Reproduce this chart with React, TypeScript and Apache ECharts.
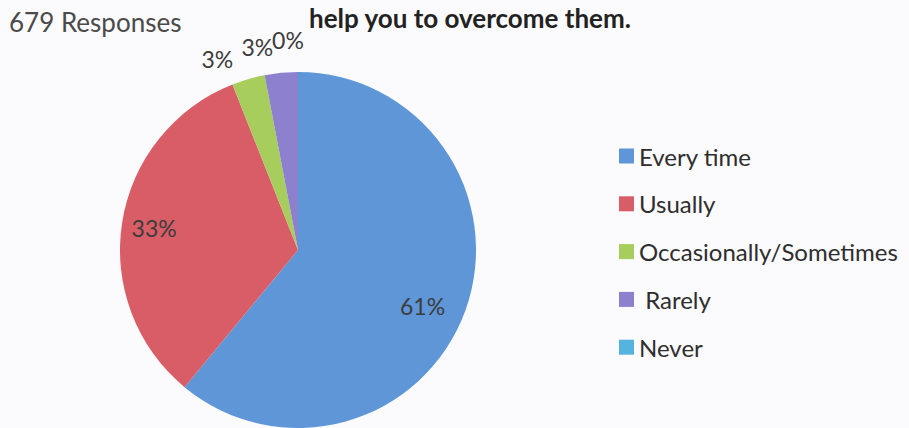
import React, { useEffect, useRef } from "react";
import * as echarts from "echarts";

// ---- data ----
const categories = ["Every time", "Usually", "Occasionally/Sometimes", " Rarely", "Never"];
const percents = [61, 33, 3, 3, 0];
const titleText = "help you to overcome them.";
const responsesText = "679 Responses";

// ---- styling ----
const colors = ["#5e96d8", "#d95d66", "#a7cd5d", "#8c80cf", "#56b2df"];
const labelShift: [number, number][] = [
  [38, 25],
  [-53, -8],
  [-55, -103],
  [-32, -111],
  [-10, -118],
];
const FONT = "Lato, 'Open Sans', sans-serif";

export default function App() {
  const ref = useRef<HTMLDivElement>(null);

  useEffect(() => {
    if (!ref.current) return;
    const chart = echarts.init(ref.current, undefined, { renderer: "svg" });
    chart.setOption({
      animation: false,
      backgroundColor: "#fbfafc",
      graphic: [
        {
          type: "text",
          x: 470,
          y: 5,
          style: {
            text: titleText,
            fill: "#222",
            font: `bold 26px ${FONT}`,
            textAlign: "center",
            textVerticalAlign: "top",
          },
        },
        {
          type: "text",
          x: 9,
          y: 9,
          style: {
            text: responsesText,
            fill: "#4a4a4a",
            font: `26px ${FONT}`,
            textAlign: "left",
            textVerticalAlign: "top",
          },
        },
      ],
      legend: {
        orient: "vertical",
        left: 614,
        top: 139,
        icon: "rect",
        itemWidth: 15,
        itemHeight: 15,
        itemGap: 23.8,
        selectedMode: false,
        data: categories,
        textStyle: {
          fontFamily: FONT,
          fontSize: 24,
          lineHeight: 24,
          color: "#2e2e2e",
        },
      },
      series: [
        {
          type: "pie",
          center: [298, 250],
          radius: 178,
          startAngle: 90,
          clockwise: true,
          avoidLabelOverlap: false,
          silent: true,
          itemStyle: { borderWidth: 0 },
          label: {
            show: true,
            position: "inside",
            formatter: "{c}%",
            fontFamily: FONT,
            fontSize: 23,
            color: "#3c3c3c",
          },
          labelLine: { show: false },
          labelLayout: (p: any) => ({
            dx: labelShift[p.dataIndex][0],
            dy: labelShift[p.dataIndex][1],
          }),
          data: categories.map((name, i) => ({
            name,
            value: percents[i],
            itemStyle: { color: colors[i] },
          })),
        },
      ],
    });
    return () => chart.dispose();
  }, []);

  return (
    <div
      ref={ref}
      style={{ position: "fixed", left: 0, top: 0, width: 909, height: 428 }}
    />
  );
}
